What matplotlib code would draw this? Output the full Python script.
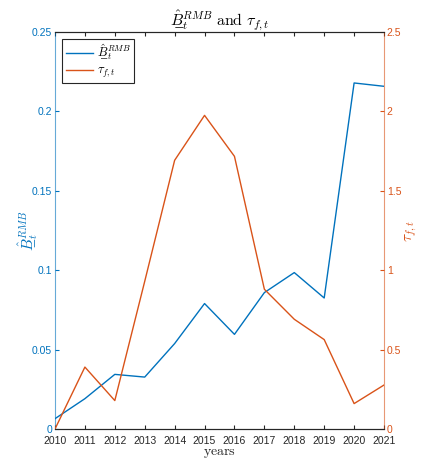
import numpy as np
import matplotlib
matplotlib.use('Agg')
import matplotlib.pyplot as plt

plt.rcParams['font.family'] = ['Liberation Sans', 'DejaVu Sans']
plt.rcParams['mathtext.fontset'] = 'cm'

# yearly series
years = np.arange(2010, 2022)
b_rmb = [0.0065, 0.0191, 0.0344, 0.0327, 0.0538, 0.0790, 0.0596, 0.0859, 0.0985, 0.0825, 0.2179, 0.2158]
tau_ft = [0.0, 0.39, 0.179, 0.93, 1.692, 1.975, 1.717, 0.88, 0.691, 0.563, 0.16, 0.277]

blue = '#0072BD'
orange = '#D95319'
grey = '#262626'

fig = plt.figure(figsize=(4.22, 4.61), dpi=100)
ax = fig.add_axes([0.1303, 0.0694, 0.7797, 0.8612])
ax2 = ax.twinx()

# underlined B-hat: B followed by a combining low line
B_LABEL = '$\\hat{B\u0332}_t^{RMB}$'
TAU_LABEL = r'$\tau_{f,t}$'

l1, = ax.plot(years, b_rmb, color=blue, lw=1.0, label=B_LABEL)
l2, = ax2.plot(years, tau_ft, color=orange, lw=1.0, label=TAU_LABEL)

ax.set_xlim(2010, 2021)
ax.set_ylim(0, 0.25)
ax2.set_ylim(0, 2.5)
ax.set_xticks(years)
ax.set_yticks(np.arange(0, 0.26, 0.05))
ax.set_yticklabels(['0', '0.05', '0.1', '0.15', '0.2', '0.25'])
ax2.set_yticks(np.arange(0, 2.6, 0.5))
ax2.set_yticklabels(['0', '0.5', '1', '1.5', '2', '2.5'])

ax.tick_params(axis='x', direction='in', length=3, top=True, labelsize=7.5,
               colors=grey, pad=5)
ax.tick_params(axis='y', direction='in', length=3, labelsize=7.5, colors=blue, pad=2)
ax2.tick_params(axis='y', direction='in', length=3, labelsize=7.5, colors=orange, pad=2)

for a in (ax, ax2):
    a.spines['top'].set_color(grey)
    a.spines['bottom'].set_color(grey)
    a.spines['left'].set_color(blue)
    a.spines['right'].set_color(orange)
    for s in a.spines.values():
        s.set_linewidth(0.8)
ax.spines['left'].set_alpha(0.6)
ax2.spines['right'].set_alpha(0.6)
ax2.spines['left'].set_visible(False)
ax.spines['right'].set_visible(False)

ax.set_xlabel(r'$\mathrm{years}$', fontsize=10, color=grey, labelpad=0)
ax.set_ylabel(B_LABEL, fontsize=11, color=blue)
ax2.set_ylabel(TAU_LABEL, fontsize=11, color=orange)
ax.yaxis.set_label_coords(-0.045, 0.5)
ax2.yaxis.set_label_coords(1.06, 0.5)
ax.set_title(B_LABEL + r' $\mathrm{and}$ ' + TAU_LABEL, fontsize=11.5, pad=4)

leg = ax.legend(handles=[l1, l2], loc='upper left', fontsize=9,
                fancybox=False, framealpha=1, edgecolor=grey,
                handlelength=2.2, borderpad=0.25, labelspacing=0.2,
                handletextpad=0.3, borderaxespad=0.6)
leg.get_frame().set_linewidth(0.8)

fig.savefig('out.png', dpi=100)
